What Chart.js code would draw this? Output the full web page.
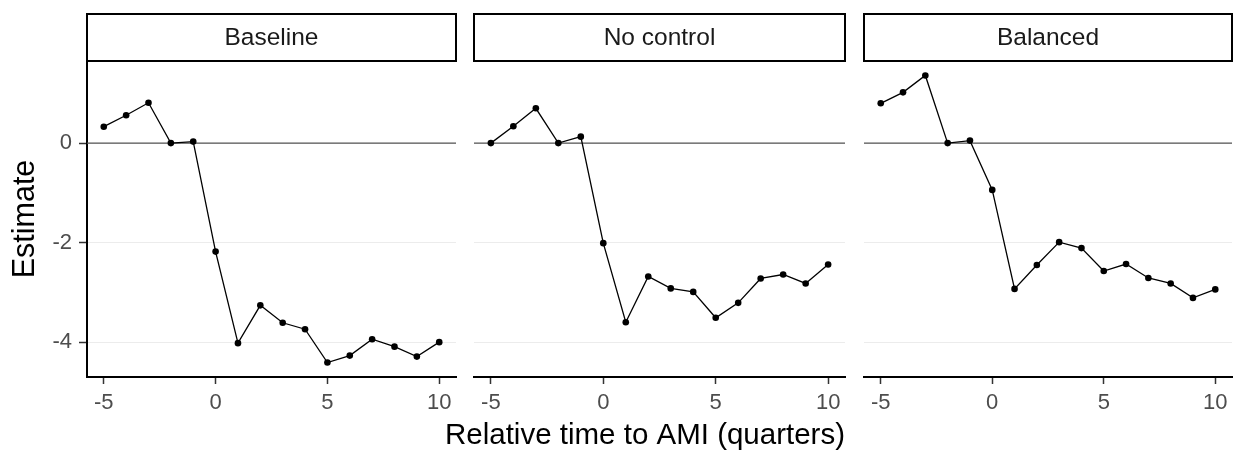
<!DOCTYPE html>
<html>
<head>
<meta charset="utf-8">
<script src="https://cdn.jsdelivr.net/npm/chart.js@4"></script>
<style>
  body { margin: 0; background: #fff; }
  #wrap { position: relative; width: 1236px; height: 450px; }
  canvas { position: absolute; top: 0; }
</style>
</head>
<body>
<div id="wrap">
  <canvas id="c1" width="460" height="450" style="left:0px"></canvas>
  <canvas id="c2" width="460" height="450" style="left:400px"></canvas>
  <canvas id="c3" width="376" height="450" style="left:860px"></canvas>
</div>
<script>
// data
const quarters = [-5, -4, -3, -2, -1, 0, 1, 2, 3, 4, 5, 6, 7, 8, 9, 10];
const baseline = [0.33, 0.56, 0.81, 0.00, 0.03, -2.18, -4.02, -3.26, -3.61, -3.74, -4.41, -4.27, -3.94, -4.09, -4.29, -4.00];
const noControl = [0.00, 0.34, 0.70, 0.00, 0.13, -2.01, -3.60, -2.68, -2.92, -2.99, -3.51, -3.21, -2.72, -2.64, -2.82, -2.44];
const balanced = [0.80, 1.02, 1.36, 0.00, 0.05, -0.94, -2.93, -2.45, -1.99, -2.11, -2.57, -2.43, -2.71, -2.82, -3.11, -2.94];
const panelTitles = ["Baseline", "No control", "Balanced"];
const xTicks = [-5, 0, 5, 10];
const yTicks = [-4, -2, 0];
const yTickLabels = ["-4", "-2", "0"];
const xTitle = "Relative time to AMI (quarters)";
const yTitle = "Estimate";

const FONT = "'Liberation Sans', Arial, Helvetica, sans-serif";

// facet strip on top of each panel + the zero reference line
const stripPlugin = {
    id: "strip",
    beforeDatasetsDraw(chart) {
        const {ctx, chartArea} = chart;
        const y0 = chart.scales.y.getPixelForValue(0);
        ctx.save();
        ctx.strokeStyle = "#555";
        ctx.lineWidth = 1.4;
        ctx.beginPath();
        ctx.moveTo(chartArea.left, y0);
        ctx.lineTo(chartArea.right, y0);
        ctx.stroke();
        ctx.restore();
    },
    afterDraw(chart, args, opts) {
        const {ctx, chartArea} = chart;
        ctx.save();
        ctx.fillStyle = "#fff";
        ctx.strokeStyle = "#000";
        ctx.lineWidth = 2;
        ctx.fillRect(chartArea.left, 14, chartArea.right - chartArea.left, 47);
        ctx.strokeRect(chartArea.left, 14, chartArea.right - chartArea.left, 47);
        ctx.fillStyle = "#1a1a1a";
        ctx.font = "24.5px " + FONT;
        ctx.textAlign = "center";
        ctx.textBaseline = "middle";
        ctx.fillText(opts.text, (chartArea.left + chartArea.right) / 2, 38);
        if (opts.xTitle) {
            ctx.fillStyle = "#000";
            ctx.font = "29.5px " + FONT;
            ctx.fillText(opts.xTitle, opts.xTitleX, 436);
        }
        ctx.restore();
    }
};

function makePanel(id, values, idx, pad) {
    const first = idx === 0;
    return new Chart(document.getElementById(id), {
        type: "line",
        data: {
            datasets: [{
                data: quarters.map((q, i) => ({x: q, y: values[i]})),
                borderColor: "#000",
                backgroundColor: "#000",
                borderWidth: 1.3,
                pointRadius: 3.3,
                pointBorderWidth: 0,
                tension: 0
            }]
        },
        options: {
            responsive: false,
            animation: false,
            devicePixelRatio: 1,
            layout: {padding: {left: pad[0], right: pad[1], top: 61, bottom: 0}},
            plugins: {
                legend: {display: false},
                tooltip: {enabled: false},
                strip: {
                    text: panelTitles[idx],
                    xTitle: idx === 1 ? xTitle : null,
                    xTitleX: 645 - 400
                }
            },
            scales: {
                x: {
                    type: "linear",
                    min: -5.75,
                    max: 10.75,
                    afterBuildTicks: s => { s.ticks = xTicks.map(v => ({value: v})); },
                    afterFit: s => { s.height = 73; },
                    grid: {drawOnChartArea: false, drawTicks: true, tickLength: 7, tickColor: "#333", tickWidth: 1.5},
                    border: {display: true, color: "#000", width: 2},
                    ticks: {color: "#4d4d4d", padding: 6, maxRotation: 0, font: {family: FONT, size: 22}}
                },
                y: {
                    min: -4.70,
                    max: 1.65,
                    afterBuildTicks: s => { s.ticks = yTicks.map(v => ({value: v})); },
                    afterFit: s => { s.width = first ? 87 : 0; },
                    grid: {color: "#ececec", lineWidth: 1, drawTicks: first, tickLength: 8, tickColor: "#333", tickWidth: 1.5},
                    border: {display: first, color: "#000", width: 2},
                    ticks: {
                        display: first,
                        color: "#4d4d4d",
                        padding: 7,
                        font: {family: FONT, size: 22},
                        callback: (v) => yTickLabels[yTicks.indexOf(v)]
                    },
                    title: {
                        display: first,
                        text: yTitle,
                        color: "#000",
                        font: {family: FONT, size: 30.5, lineHeight: 1},
                        padding: {top: 10, bottom: 0}
                    }
                }
            }
        },
        plugins: [stripPlugin]
    });
}

makePanel("c1", baseline, 0, [0, 2]);
makePanel("c2", noControl, 1, [74, 15]);
makePanel("c3", balanced, 2, [1, 4]);
</script>
</body>
</html>
